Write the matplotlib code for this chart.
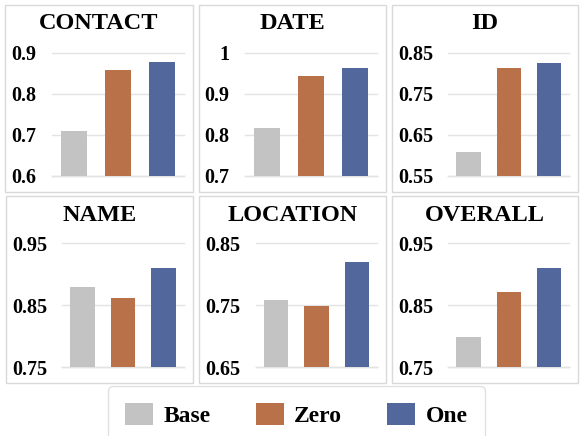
import matplotlib
matplotlib.use("Agg")
import matplotlib.pyplot as plt
from matplotlib.patches import Rectangle, Patch

plt.rcParams['font.family'] = ['Liberation Serif', 'DejaVu Serif']
plt.rcParams['font.weight'] = 'bold'

panels = ["CONTACT", "DATE", "ID", "NAME", "LOCATION", "OVERALL"]
series = ["Base", "Zero", "One"]
base_vals = [0.708, 0.817, 0.609, 0.880, 0.759, 0.799]
zero_vals = [0.858, 0.944, 0.812, 0.862, 0.749, 0.872]
one_vals = [0.877, 0.963, 0.824, 0.910, 0.820, 0.910]
yticks = [
    [0.6, 0.7, 0.8, 0.9],
    [0.7, 0.8, 0.9, 1.0],
    [0.55, 0.65, 0.75, 0.85],
    [0.75, 0.85, 0.95],
    [0.65, 0.75, 0.85],
    [0.75, 0.85, 0.95],
]
ytick_labels = [
    ["0.6", "0.7", "0.8", "0.9"],
    ["0.7", "0.8", "0.9", "1"],
    ["0.55", "0.65", "0.75", "0.85"],
    ["0.75", "0.85", "0.95"],
    ["0.65", "0.75", "0.85"],
    ["0.75", "0.85", "0.95"],
]
colors = ["#c3c3c3", "#b87148", "#52689c"]

W, H = 580, 436
fig = plt.figure(figsize=(W / 100, H / 100), dpi=100)

def fx(x):
    return x / W

def fy(y):
    return 1 - y / H

# panel boxes (pixel coords: x0, y0, x1, y1)
boxes = [
    (5, 5, 193, 192), (199, 5, 386, 192), (392, 5, 578, 192),
    (5.5, 196, 193, 383), (198.5, 196, 386, 383), (392, 196, 578, 383),
]
# axes areas (pixel coords)
axes_px = [
    (52, 52.7, 184, 175.7), (245, 52.7, 377.3, 175.7), (448.3, 52.7, 569.3, 175.7),
    (62.3, 243.3, 183.7, 367), (255.7, 243.3, 377.3, 367), (448.3, 243.3, 569.3, 367),
]
title_y = [23.5, 23.5, 23.5, 215, 215, 215]

grid_c = "#e3e3e3"
for i, name in enumerate(panels):
    bx0, by0, bx1, by1 = boxes[i]
    fig.patches.append(Rectangle((fx(bx0), fy(by1)), fx(bx1 - bx0), (by1 - by0) / H,
                                 transform=fig.transFigure, fill=False,
                                 edgecolor="#d9d9d9", linewidth=1.0))
    x0, y0, x1, y1 = axes_px[i]
    ax = fig.add_axes([fx(x0), fy(y1), fx(x1 - x0), (y1 - y0) / H])
    vals = [base_vals[i], zero_vals[i], one_vals[i]]
    ax.bar(range(3), vals, width=0.6, color=colors, zorder=3)
    ax.set_xlim(-0.5, 2.5)
    ax.set_ylim(yticks[i][0], yticks[i][-1])
    ax.set_yticks(yticks[i])
    ax.set_yticklabels(ytick_labels[i], fontsize=14.5, fontweight='bold')
    ax.set_xticks([])
    ax.tick_params(axis='y', length=0, pad=11)
    ax.grid(axis='y', color=grid_c, linewidth=1.0, zorder=0)
    for s in ["top", "left", "right"]:
        ax.spines[s].set_visible(False)
    ax.spines["bottom"].set_color(grid_c)
    ax.spines["bottom"].set_linewidth(1.0)
    for gl in ax.get_ygridlines():
        gl.set_clip_on(False)
    fig.text(fx((bx0 + bx1) / 2), fy(title_y[i]), name, ha='center', va='center',
             fontsize=17.5, fontweight='bold')

handles = [Patch(facecolor=c, edgecolor='none', label=s) for c, s in zip(colors, series)]
leg = fig.legend(handles=handles, loc='center', ncol=3,
                 bbox_to_anchor=(fx(296.5), fy(415)),
                 prop={'family': 'Liberation Serif', 'weight': 'bold', 'size': 17},
                 handlelength=1.19, handleheight=1.02, handletextpad=0.44,
                 columnspacing=1.9, borderpad=0.72, frameon=True, fancybox=True)
leg.get_frame().set_edgecolor("#d9d9d9")
leg.get_frame().set_linewidth(1.0)

fig.savefig("out.png", dpi=100)
